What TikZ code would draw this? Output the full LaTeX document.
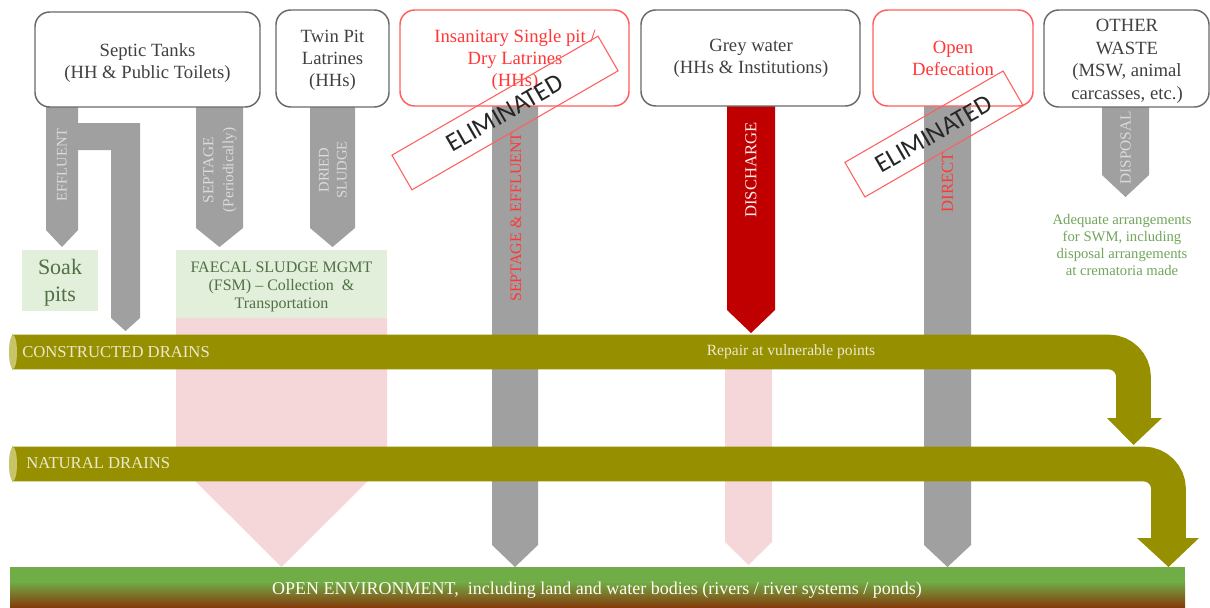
\documentclass[tikz,border=0pt]{standalone}
\usepackage{fontspec}
\setmainfont{Liberation Serif}
\newfontfamily\stampfont{Carlito}
\usepackage{tikz}

\definecolor{boxline}{RGB}{105,105,105}
\definecolor{boxtext}{RGB}{64,64,64}
\definecolor{redline}{RGB}{255,95,95}
\definecolor{redtext}{RGB}{255,55,55}
\definecolor{pipegray}{RGB}{160,160,160}
\definecolor{pipered}{RGB}{192,0,0}
\definecolor{pinkflow}{RGB}{245,215,218}
\definecolor{paleleaf}{RGB}{226,239,218}
\definecolor{leafink}{RGB}{80,112,70}
\definecolor{drainolive}{RGB}{150,144,0}
\definecolor{drainend}{RGB}{200,196,105}
\definecolor{draincream}{RGB}{236,233,205}
\definecolor{groundgreen}{RGB}{112,173,71}
\definecolor{groundbrown}{RGB}{132,60,12}
\definecolor{swmgreen}{RGB}{112,165,90}

\tikzset{
  srcbox/.style={draw=boxline, line width=1.1pt, fill=white, rounded corners=11pt},
  gonebox/.style={srcbox, draw=redline},
  srctext/.style={text=boxtext, align=center, inner sep=0pt, font=\fontsize{14}{16.5}\selectfont},
  gonetext/.style={srctext, text=redtext},
  flowlabel/.style={rotate=90, inner sep=0pt, align=center, font=\fontsize{11}{14}\selectfont},
  elimstamp/.style={draw=redline, line width=0.8pt, rotate=30, minimum height=30pt, inner sep=0pt, text=black!85, font=\stampfont\fontsize{19.5}{20}\selectfont},
  drainpipe/.style={draw=drainolive, line width=26pt, rounded corners=18.75pt},
  drainlabel/.style={text=draincream, inner sep=0pt, font=\fontsize{12.5}{14}\selectfont},
  leaflabel/.style={text=leafink, align=center, inner sep=0pt}
}

\begin{document}
\begin{tikzpicture}[x=0.75pt,y=0.75pt,yscale=-1,xscale=1]
\useasboundingbox (0,0) rectangle (1210,607);

%Shape: Polygon (faecal sludge flow)
\fill[pinkflow] (176,318) -- (387,318) -- (387,462) -- (281.5,567) -- (176,462) -- cycle;
%Shape: Polygon (grey water leak)
\fill[pinkflow] (725,369) -- (772,369) -- (772,542) -- (748.5,565) -- (725,542) -- cycle;

%Shape: Polygon (effluent and overflow pipe)
\fill[pipegray] (46,107) -- (78,107) -- (78,123) -- (140,123) -- (140,318) -- (125.5,331) -- (111,318) -- (111,150) -- (78,150) -- (78,230) -- (62,247) -- (46,230) -- cycle;
%Shape: Polygon (septage)
\fill[pipegray] (196,107) -- (243,107) -- (243,228) -- (219.5,247) -- (196,228) -- cycle;
%Shape: Polygon (dried sludge)
\fill[pipegray] (310,107) -- (355,107) -- (355,228) -- (332.5,247) -- (310,228) -- cycle;
%Shape: Polygon (septage & effluent)
\fill[pipegray] (492,106) -- (538,106) -- (538,545) -- (515,567) -- (492,545) -- cycle;
%Shape: Polygon (discharge)
\fill[pipered] (727,106) -- (775,106) -- (775,310) -- (751,333) -- (727,310) -- cycle;
%Shape: Polygon (direct)
\fill[pipegray] (924,106) -- (971,106) -- (971,545) -- (947.5,567) -- (924,545) -- cycle;
%Shape: Polygon (disposal)
\fill[pipegray] (1102,107) -- (1149,107) -- (1149,175) -- (1125.5,197) -- (1102,175) -- cycle;

%Shape: Rectangle (soak pits)
\fill[paleleaf] (22,250) rectangle (98,311);
%Shape: Rectangle (FSM)
\fill[paleleaf] (176,250) rectangle (387,318);

%Shape: Drain (constructed)
\draw[drainpipe] (12,352) -- (1133.5,352) -- (1133.5,419);
\fill[drainolive] (1107,418) -- (1162,418) -- (1133.5,445) -- cycle;
\fill[drainend] (13,352) ellipse [x radius=4, y radius=17];
%Shape: Drain (natural)
\draw[drainpipe] (12,464) -- (1168.5,464) -- (1168.5,539);
\fill[drainolive] (1137,538) -- (1199,538) -- (1168.5,567) -- cycle;
\fill[drainend] (13,464) ellipse [x radius=4, y radius=17];

%Shape: Ground
\fill[groundgreen] (10,567) rectangle (1185,582);
\shade[top color=groundgreen, bottom color=groundbrown] (10,581.5) rectangle (1185,607);

%Rounded Rect (sources)
\draw[srcbox] (35,12) rectangle (260,107);
\draw[srcbox] (276,10) rectangle (389,107);
\draw[gonebox] (400,10) rectangle (629,106);
\draw[srcbox] (641,10) rectangle (860,106);
\draw[gonebox] (873,10) rectangle (1033,106);
\draw[srcbox] (1044,10) rectangle (1209,107);

% Text Node
\node[srctext] (septic) at (147.5,63.5) {Septic Tanks\\(HH \& Public Toilets)};
% Text Node
\node[srctext] (twinpit) at (332.5,60.5) {Twin Pit\\Latrines\\(HHs)};
% Text Node
\node[gonetext] (singlepit) at (515,60.5) {Insanitary Single pit /\\Dry Latrines\\(HHs)};
% Text Node
\node[srctext] (greywater) at (751,58.5) {Grey water\\(HHs \& Institutions)};
% Text Node
\node[gonetext] (opendef) at (953,58) {Open\\Defecation};
% Text Node
\node[srctext, font=\fontsize{14}{16.9}\selectfont] (otherwaste) at (1127,61.5) {OTHER\\WASTE\\(MSW, animal\\carcasses, etc.)};

% Text Node
\node[flowlabel, text=black!14] (effluent) at (62,165) {EFFLUENT};
% Text Node
\node[flowlabel, text=black!14, font=\fontsize{11.5}{15}\selectfont] (septage) at (220,170) {SEPTAGE\\(Periodically)};
% Text Node
\node[flowlabel, text=black!14, font=\fontsize{11}{13.5}\selectfont] (dried) at (333,170) {DRIED\\SLUDGE};
% Text Node
\node[flowlabel, text=redtext, font=\fontsize{12}{14}\selectfont] (septeff) at (516,217) {SEPTAGE \& EFFLUENT};
% Text Node
\node[flowlabel, text=white!92!red, font=\fontsize{12.5}{14}\selectfont] (discharge) at (751,170) {DISCHARGE};
% Text Node
\node[flowlabel, text=redtext, font=\fontsize{12.5}{14}\selectfont] (direct) at (947.5,182) {DIRECT};
% Text Node
\node[flowlabel, text=black!14, font=\fontsize{11.5}{14}\selectfont] (disposal) at (1125.5,148) {DISPOSAL};

% Text Node
\node[leaflabel, font=\fontsize{16.5}{20}\selectfont] (soakpits) at (60,283) {Soak\\pits};
% Text Node
\node[leaflabel, font=\fontsize{12}{13.5}\selectfont] (fsm) at (281.5,287) {FAECAL SLUDGE MGMT\\(FSM) -- Collection~ \&\\Transportation};
% Text Node
\node[leaflabel, text=swmgreen, font=\fontsize{11}{12.75}\selectfont] (swm) at (1122,245) {Adequate arrangements\\for SWM, including\\disposal arrangements\\at crematoria made};

% Text Node
\node[drainlabel, anchor=west] (constructed) at (22,352) {CONSTRUCTED DRAINS};
% Text Node
\node[drainlabel, font=\fontsize{11.7}{14}\selectfont] (repair) at (791,352) {Repair at vulnerable points};
% Text Node
\node[drainlabel, anchor=west] (natural) at (26,463) {NATURAL DRAINS};
% Text Node
\node[drainlabel, text=white!94!yellow, font=\fontsize{13.5}{15}\selectfont] (openenv) at (597,590) {OPEN ENVIRONMENT,~ including land and water bodies (rivers / river systems / ponds)};

%Stamps
\node[elimstamp, minimum width=178.5pt] (elimpit) at (505,113) {ELIMINATED};
\node[elimstamp, minimum width=137pt] (elimod) at (934,134) {ELIMINATED};

\end{tikzpicture}
\end{document}
